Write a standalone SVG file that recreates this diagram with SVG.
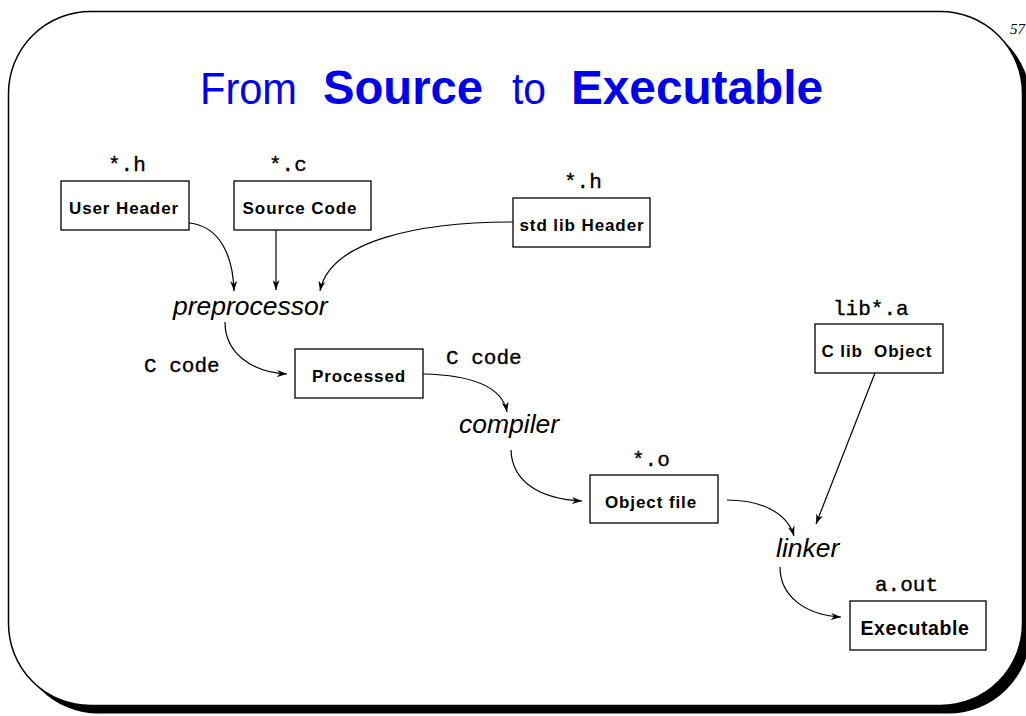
<svg xmlns="http://www.w3.org/2000/svg" width="1026" height="716" viewBox="0 0 1026 716">
  <defs>
    <marker id="arrow" viewBox="0 0 10 7" refX="10" refY="3.5" markerWidth="10" markerHeight="7" markerUnits="userSpaceOnUse" orient="auto">
      <path d="M0,0 L10,3.5 L0,7 L3,3.5 z" fill="#000"/>
    </marker>
  </defs>
  <style>
    .box { fill: #fff; stroke: #000; stroke-width: 1.3; }
    .boxtext { font-family: "Liberation Sans", Arial, sans-serif; font-weight: bold; font-size: 17px; letter-spacing: 0.9px; text-anchor: middle; fill: #000; }
    .boxtext.big { font-size: 19.5px; letter-spacing: 0.6px; }
    .ext { font-family: "Liberation Mono", "Courier New", monospace; font-size: 21px; fill: #000; stroke: #000; stroke-width: 0.35px; }
    .tool { font-family: "Liberation Sans", Arial, sans-serif; font-style: italic; font-size: 26.5px; fill: #000; }
    .title { font-family: "Liberation Sans", Arial, sans-serif; fill: #0000f0; }
    .edge { fill: none; stroke: #000; stroke-width: 1.2; marker-end: url(#arrow); }
  </style>

  <rect width="1026" height="716" fill="#fff"/>

  <!-- slide frame with drop shadow -->
  <rect x="16.5" y="19.5" width="1014" height="694" rx="82" ry="82" fill="#000"/>
  <rect x="8.5" y="11.5" width="1014" height="694" rx="82" ry="82" fill="#fff" stroke="#000" stroke-width="1.5"/>

  <text x="1010" y="34" font-family="'Liberation Serif', 'Times New Roman', serif" font-style="italic" font-size="15">57</text>

  <!-- heading -->
  <g id="title">
    <text class="title" x="200" y="104" font-size="44" textLength="97" lengthAdjust="spacingAndGlyphs">From</text>
    <text class="title" x="323" y="104" font-size="48" font-weight="bold" textLength="160" lengthAdjust="spacingAndGlyphs">Source</text>
    <text class="title" x="512" y="104" font-size="44" textLength="34" lengthAdjust="spacingAndGlyphs">to</text>
    <text class="title" x="571" y="104" font-size="48" font-weight="bold" textLength="252" lengthAdjust="spacingAndGlyphs">Executable</text>
  </g>

  <!-- inputs -->
  <g id="user-header">
    <text class="ext" x="108" y="171">*.h</text>
    <rect class="box" x="61" y="181" width="128" height="49"/>
    <text class="boxtext" x="124" y="214">User Header</text>
  </g>
  <g id="source-code">
    <text class="ext" x="269" y="171">*.c</text>
    <rect class="box" x="234" y="181" width="137" height="49"/>
    <text class="boxtext" x="300" y="214">Source Code</text>
  </g>
  <g id="stdlib-header">
    <text class="ext" x="564" y="188">*.h</text>
    <rect class="box" x="513" y="198" width="137" height="49"/>
    <text class="boxtext" x="582" y="231">std lib Header</text>
  </g>

  <!-- preprocessing -->
  <g id="preprocessor">
    <text class="tool" x="173" y="315">preprocessor</text>
  </g>
  <g id="processed">
    <text class="ext" x="144" y="372">C code</text>
    <text class="ext" x="446" y="364">C code</text>
    <rect class="box" x="295" y="349" width="128" height="49"/>
    <text class="boxtext" x="359" y="382">Processed</text>
  </g>

  <!-- compiling -->
  <g id="compiler">
    <text class="tool" x="459" y="433">compiler</text>
  </g>
  <g id="object-file">
    <text class="ext" x="632" y="466">*.o</text>
    <rect class="box" x="590" y="475" width="128" height="48"/>
    <text class="boxtext" x="651" y="508">Object file</text>
  </g>

  <!-- library -->
  <g id="clib-object">
    <text class="ext" x="833" y="315">lib*.a</text>
    <rect class="box" x="815" y="324" width="128" height="49"/>
    <text class="boxtext" x="877" y="357" xml:space="preserve">C lib  Object</text>
  </g>

  <!-- linking -->
  <g id="linker">
    <text class="tool" x="776" y="557">linker</text>
  </g>
  <g id="executable">
    <text class="ext" x="875" y="591">a.out</text>
    <rect class="box" x="850" y="601" width="136" height="49"/>
    <text class="boxtext big" x="915" y="635">Executable</text>
  </g>

  <!-- connectors -->
  <g id="connectors">
    <path class="edge" d="M189,223 C220,226 233,256 234,291"/>
    <path class="edge" d="M276,230 L276,290"/>
    <path class="edge" d="M513,222 C420,222 330,240 320,291"/>
    <path class="edge" d="M225,322 C225,352 250,372 287,374"/>
    <path class="edge" d="M423,374 C470,375 502,385 507,412"/>
    <path class="edge" d="M511,450 C512,482 540,499 582,501"/>
    <path class="edge" d="M727,500 C760,500 787,512 794,536"/>
    <path class="edge" d="M875,373 L816,524"/>
    <path class="edge" d="M780,567 C780,596 805,615 841,617"/>
  </g>
</svg>
